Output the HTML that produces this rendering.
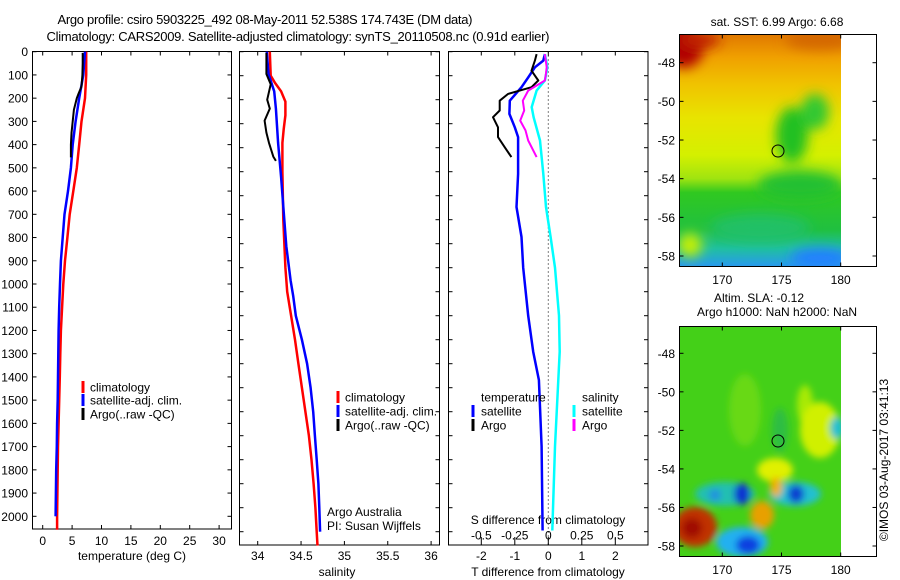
<!DOCTYPE html>
<html><head><meta charset="utf-8">
<style>
html,body{margin:0;padding:0;background:#fff;}
svg{display:block;font-family:"Liberation Sans",sans-serif;}
text{fill:#000;}
</style></head>
<body>
<svg id="fig" width="900" height="580" viewBox="0 0 900 580" xmlns="http://www.w3.org/2000/svg">
<defs>
  <linearGradient id="sstGrad" x1="0" y1="0" x2="0" y2="1">
    <stop offset="0" stop-color="#e07800"/>
    <stop offset="0.1" stop-color="#f0a000"/>
    <stop offset="0.22" stop-color="#f0c400"/>
    <stop offset="0.36" stop-color="#e8e400"/>
    <stop offset="0.52" stop-color="#d4f000"/>
    <stop offset="0.62" stop-color="#a0e410"/>
    <stop offset="0.68" stop-color="#30c820"/>
    <stop offset="0.84" stop-color="#20c040"/>
    <stop offset="0.92" stop-color="#20c0a0"/>
    <stop offset="1" stop-color="#2898f0"/>
  </linearGradient>
  <filter id="blur6" x="-50%" y="-50%" width="200%" height="200%"><feGaussianBlur stdDeviation="6"/></filter>
  <filter id="blur4" x="-50%" y="-50%" width="200%" height="200%"><feGaussianBlur stdDeviation="3.5"/></filter>
  <clipPath id="clipMap1"><rect x="679" y="34" width="162" height="233"/></clipPath>
  <clipPath id="clipMap2"><rect x="679" y="326" width="162" height="231"/></clipPath>
</defs>

<text x="265" y="24" text-anchor="middle" font-size="13" textLength="415">Argo profile: csiro 5903225_492 08-May-2011 52.538S 174.743E (DM data)</text>
<text x="298" y="41" text-anchor="middle" font-size="13" textLength="503">Climatology: CARS2009. Satellite-adjusted climatology: synTS_20110508.nc (0.91d earlier)</text>

<g>
  <text x="777" y="26" text-anchor="middle" font-size="12">sat. SST: 6.99 Argo: 6.68</text>
  <g clip-path="url(#clipMap1)">
    <rect x="679" y="34" width="162" height="233" fill="url(#sstGrad)"/>
    <g filter="url(#blur6)">
      <ellipse cx="684" cy="46" rx="20" ry="22" fill="#b00000"/>
      <ellipse cx="700" cy="40" rx="20" ry="8" fill="#c02000"/>
      <ellipse cx="820" cy="40" rx="35" ry="10" fill="#d06000" opacity="0.8"/>
      <ellipse cx="792" cy="135" rx="16" ry="28" fill="#20c020"/>
      <ellipse cx="815" cy="112" rx="14" ry="18" fill="#30c830"/>
      <ellipse cx="800" cy="185" rx="42" ry="14" fill="#20c030"/>
      <ellipse cx="760" cy="228" rx="50" ry="14" fill="#20c070" opacity="0.8"/>
      <ellipse cx="690" cy="245" rx="12" ry="12" fill="#c8f000"/>
      <ellipse cx="820" cy="258" rx="30" ry="10" fill="#2080ff"/>
    </g>
  </g>
  <rect x="841" y="34" width="36" height="233" fill="#fff"/>
  <rect x="679.5" y="34.5" width="197" height="232" fill="none" stroke="#000"/>
  <circle cx="778" cy="151" r="6" fill="none" stroke="#000"/>
  <g id="map1Ticks"></g>
</g>

<g>
  <text x="759" y="302" text-anchor="middle" font-size="12">Altim. SLA: -0.12</text>
  <text x="777" y="316" text-anchor="middle" font-size="12">Argo h1000: NaN h2000: NaN</text>
  <g clip-path="url(#clipMap2)">
    <rect x="679" y="326" width="162" height="231" fill="#44d018"/>
    <g filter="url(#blur4)">
      <ellipse cx="745" cy="410" rx="16" ry="36" fill="#80e010" opacity="0.6"/>
      <ellipse cx="805" cy="405" rx="8" ry="20" fill="#c0f000" opacity="0.8"/>
      <ellipse cx="780" cy="430" rx="8" ry="22" fill="#20b060" opacity="0.6"/>
      <ellipse cx="820" cy="430" rx="20" ry="28" fill="#d0f000"/>
      <ellipse cx="837" cy="428" rx="7" ry="11" fill="#20c0d0"/>
      <ellipse cx="775" cy="470" rx="18" ry="12" fill="#e0f000"/>
      <ellipse cx="725" cy="494" rx="30" ry="12" fill="#20c0b0"/>
      <ellipse cx="742" cy="494" rx="8" ry="11" fill="#1030d0"/>
      <ellipse cx="715" cy="495" rx="6" ry="6" fill="#2090e0"/>
      <ellipse cx="795" cy="494" rx="26" ry="12" fill="#20c0d0"/>
      <ellipse cx="796" cy="494" rx="8" ry="9" fill="#1040d0"/>
      <ellipse cx="776" cy="487" rx="6" ry="10" fill="#f0b000"/>
      <ellipse cx="762" cy="515" rx="12" ry="14" fill="#e8a000"/>
      <ellipse cx="695" cy="527" rx="22" ry="20" fill="#c03000"/>
      <ellipse cx="692" cy="528" rx="10" ry="10" fill="#a01000"/>
      <ellipse cx="742" cy="542" rx="26" ry="15" fill="#20b0f0"/>
      <ellipse cx="748" cy="545" rx="12" ry="9" fill="#1040e0"/>
    </g>
  </g>
  <rect x="841" y="326" width="36" height="231" fill="#fff"/>
  <rect x="679.5" y="326.5" width="197" height="230" fill="none" stroke="#000"/>
  <circle cx="778" cy="441" r="6" fill="none" stroke="#000"/>
  <g id="map2Ticks"></g>
  <text transform="translate(888,460) rotate(-90)" text-anchor="middle" font-size="12">©IMOS 03-Aug-2017 03:41:13</text>
</g>

<g id="panels"></g>

<script>
const climDepth = [0,100,200,300,400,500,600,700,800,900,1000,1100,1200,1300,1400,1500,1600,1700,1800,1900,2000,2058];
const climTemp = [7.4,7.4,7.2,6.6,6.2,5.8,5.2,4.6,4.2,3.8,3.5,3.3,3.1,3.0,2.9,2.8,2.7,2.6,2.55,2.5,2.45,2.45];
const satDepth = [0,100,200,300,400,500,600,700,800,900,1000,1100,1200,1300,1400,1500,1600,1700,1800,1900,2000];
const satTemp = [7.2,6.9,6.2,5.6,5.1,4.8,4.3,3.7,3.4,3.1,2.95,2.8,2.7,2.65,2.6,2.55,2.45,2.4,2.3,2.25,2.2];
const argoDepth = [5,50,100,150,180,200,250,300,350,400,455];
const argoTemp = [6.8,6.8,6.75,6.6,6.1,5.8,5.3,5.1,4.9,4.8,4.8];

const climSDepth = [0,100,130,165,208,265,323,380,500,700,900,1000,1100,1200,1300,1400,1500,1600,1700,1800,1900,2000,2058];
const climSal = [34.14,34.15,34.2,34.27,34.32,34.32,34.3,34.285,34.285,34.295,34.32,34.34,34.385,34.43,34.47,34.51,34.55,34.59,34.62,34.645,34.665,34.68,34.69];
const satSDepth = [0,93,165,237,380,523,667,810,953,1018,1100,1200,1300,1400,1500,1600,1700,1800,1900,2000];
const satSal = [34.105,34.125,34.19,34.21,34.235,34.27,34.30,34.33,34.38,34.41,34.44,34.51,34.57,34.61,34.64,34.66,34.68,34.70,34.71,34.72];
const argoSDepth = [5,93,136,200,237,287,337,380,437,455];
const argoSal = [34.1,34.1,34.15,34.11,34.14,34.08,34.1,34.13,34.18,34.21];

const satDTDepth = [10,37,65,107,148,204,259,315,356,509,647,772,900,1100,1250,1368,1645,1995];
const satDT = [-0.1,-0.15,-0.4,-0.6,-0.8,-1.15,-1.16,-1.0,-0.9,-0.9,-0.95,-0.8,-0.75,-0.6,-0.45,-0.28,-0.2,-0.17];
const argoDTDepth = [10,37,79,120,148,176,204,245,273,315,356,398,439];
const argoDT = [-0.35,-0.4,-0.5,-0.3,-0.5,-1.2,-1.45,-1.45,-1.65,-1.5,-1.5,-1.3,-1.1];
const satDSDepth = [10,65,120,162,231,273,370,509,647,772,900,1100,1250,1368,1645,1995];
const satDS = [-0.025,-0.007,-0.025,-0.087,-0.124,-0.11,-0.062,-0.037,-0.017,0.017,0.05,0.08,0.085,0.075,0.05,0.03];
const argoDSDepth = [10,65,93,120,162,204,245,287,328,370,439];
const argoDS = [-0.025,-0.012,-0.018,-0.025,-0.15,-0.19,-0.18,-0.21,-0.17,-0.15,-0.087];

const depthTicks = [0,100,200,300,400,500,600,700,800,900,1000,1100,1200,1300,1400,1500,1600,1700,1800,1900,2000];
const tempTicks = [0,5,10,15,20,25,30];
const salTicks = [34,34.5,35,35.5,36];
const dTTicks = [-2,-1,0,1,2];
const dSTicks = [-0.5,-0.25,0,0.25,0.5];
const dSTickLabels = ['-0.5','-0.25','0','0.25','0.5'];
const lonTicks = [170,175,180];
const latTicks = [-48,-50,-52,-54,-56,-58];

const NS = 'http://www.w3.org/2000/svg';
function el(tag, parent){ const e=document.createElementNS(NS,tag); parent.appendChild(e); return e; }
const root = document.getElementById('panels');

const p1 = {x0:32.5,x1:231.5,y0:51.5,y1:529};
const p2 = {x0:239.5,x1:439.5,y0:51.5,y1:545};
const p3 = {x0:448.5,x1:648,y0:51.5,y1:545};
const xT = t => 42.7 + 5.88*t;
const yD1 = d => 51.7 + 0.2323*d;
const xS = s => 257.7 + 86.7*(s-34);
const yD2 = d => 51.7 + 0.24*d;
const xDT = t => 548.3 + 33.5*t;
const xDS = s => 548.3 + 134*s;

function box(p, name){
  const r = el('rect', root);
  r.setAttribute('x',p.x0); r.setAttribute('y',p.y0);
  r.setAttribute('width',p.x1-p.x0); r.setAttribute('height',p.y1-p.y0);
  r.setAttribute('fill','none'); r.setAttribute('stroke','#000');
  
  
}
function line(xs, ys, xf, yf, color, w, name){
  const pl = el('polyline', root);
  pl.setAttribute('points', xs.map((v,i)=>xf(v).toFixed(1)+','+yf(ys[i]).toFixed(1)).join(' '));
  pl.setAttribute('fill','none'); pl.setAttribute('stroke',color);
  pl.setAttribute('stroke-width',w); pl.setAttribute('stroke-linejoin','round');
  
  
}
function txt(x,y,s,anchor,size,name,parent){
  const t = el('text', parent||root);
  t.setAttribute('x',x); t.setAttribute('y',y);
  t.setAttribute('text-anchor',anchor||'start'); t.setAttribute('font-size',size||12);
  t.textContent = s;
  
  
  return t;
}
function seg(x1,y1,x2,y2,parent,name){
  const l = el('line', parent||root);
  l.setAttribute('x1',x1); l.setAttribute('y1',y1); l.setAttribute('x2',x2); l.setAttribute('y2',y2);
  l.setAttribute('stroke','#000');
  
  
  return l;
}
function legBar(x,y,color,name){
  const r = el('rect', root);
  r.setAttribute('x',x-1.5); r.setAttribute('y',y-6); r.setAttribute('width',3); r.setAttribute('height',12);
  r.setAttribute('fill',color);
  
  
}

box(p1,'temperature-panel');
depthTicks.forEach(d=>{
  const y=yD1(d);
  seg(p1.x0,y,p1.x0+4,y,root,'depth-tick');
  seg(p1.x1,y,p1.x1-4,y,root,'depth-tick-right');
  txt(28,y+4.5,String(d),'end',12,'depth-tick-label');
});
tempTicks.forEach(t=>{
  const x=xT(t);
  seg(x,p1.y1,x,p1.y1-4,root,'temp-tick');
  seg(x,p1.y0,x,p1.y0+4,root,'temp-tick-top');
  txt(x,545,String(t),'middle',12,'temp-tick-label');
});
txt(132,560,'temperature (deg C)','middle',12,'temperature-axis-title');
line(climTemp,climDepth,xT,yD1,'#ff0000',2.5,'temp-climatology-line');
line(satTemp,satDepth,xT,yD1,'#0000ff',2.5,'temp-satellite-line');
line(argoTemp,argoDepth,xT,yD1,'#000000',2,'temp-argo-line');
legBar(83,387,'#ff0000','legend-climatology-swatch'); txt(90,391.5,'climatology','start',12,'legend-climatology');
legBar(83,400,'#0000ff','legend-satellite-swatch'); txt(90,404.5,'satellite-adj. clim.','start',12,'legend-satellite');
legBar(83,414,'#000000','legend-argo-swatch'); txt(90,418.5,'Argo(..raw -QC)','start',12,'legend-argo');

box(p2,'salinity-panel');
depthTicks.forEach(d=>{
  const y=yD2(d);
  seg(p2.x0,y,p2.x0+4,y,root,'sal-depth-tick');
  seg(p2.x1,y,p2.x1-4,y,root,'sal-depth-tick-right');
});
salTicks.forEach(s=>{
  const x=xS(s);
  seg(x,p2.y1,x,p2.y1-4,root,'sal-tick');
  seg(x,p2.y0,x,p2.y0+4,root,'sal-tick-top');
  txt(x,560,String(s),'middle',12,'sal-tick-label');
});
txt(337,576,'salinity','middle',12,'salinity-axis-title');
line(climSal,climSDepth,xS,yD2,'#ff0000',2.5,'sal-climatology-line');
line(satSal,satSDepth,xS,yD2,'#0000ff',2.5,'sal-satellite-line');
line(argoSal,argoSDepth,xS,yD2,'#000000',2,'sal-argo-line');
legBar(338,397,'#ff0000','legend2-climatology-swatch'); txt(345,401.5,'climatology','start',12,'legend2-climatology');
legBar(338,411,'#0000ff','legend2-satellite-swatch'); txt(345,415.5,'satellite-adj. clim.','start',12,'legend2-satellite');
legBar(338,425,'#000000','legend2-argo-swatch'); txt(345,429.5,'Argo(..raw -QC)','start',12,'legend2-argo');
txt(327,516,'Argo Australia','start',12,'credit-argo-australia');
txt(327,530,'PI: Susan Wijffels','start',12,'credit-pi');

box(p3,'difference-panel');
const dot = el('line', root);
dot.setAttribute('x1',548.3); dot.setAttribute('y1',p3.y0); dot.setAttribute('x2',548.3); dot.setAttribute('y2',p3.y1);
dot.setAttribute('stroke','#000'); dot.setAttribute('stroke-dasharray','1,3');


depthTicks.forEach(d=>{
  const y=yD2(d);
  seg(p3.x0,y,p3.x0+4,y,root,'diff-depth-tick');
  seg(p3.x1,y,p3.x1-4,y,root,'diff-depth-tick-right');
});
dTTicks.forEach(t=>{
  const x=xDT(t);
  seg(x,p3.y1,x,p3.y1-4,root,'dt-tick');
  seg(x,p3.y0,x,p3.y0+4,root,'dt-tick-top');
  txt(x,560,String(t),'middle',12,'dt-tick-label');
});
dSTicks.forEach((s,i)=>{
  const x=xDS(s);
  seg(x,p3.y1-8,x,p3.y1-4,root,'ds-tick');
  txt(x,539.5,dSTickLabels[i],'middle',12,'ds-tick-label');
});
txt(548,524,'S difference from climatology','middle',12,'s-diff-axis-title');
txt(548,576,'T difference from climatology','middle',12,'t-diff-axis-title');
line(satDT,satDTDepth,xDT,yD2,'#0000ff',2.5,'dt-satellite-line');
line(argoDT,argoDTDepth,xDT,yD2,'#000000',2,'dt-argo-line');
line(satDS,satDSDepth,xDS,yD2,'#00ffff',2.5,'ds-satellite-line');
line(argoDS,argoDSDepth,xDS,yD2,'#ff00ff',2,'ds-argo-line');
txt(481,401.5,'temperature','start',12,'legend3-temperature-header');
legBar(473,411,'#0000ff','legend3-t-satellite-swatch'); txt(481,415.5,'satellite','start',12,'legend3-t-satellite');
legBar(473,425,'#000000','legend3-t-argo-swatch'); txt(481,429.5,'Argo','start',12,'legend3-t-argo');
txt(582,401.5,'salinity','start',12,'legend3-salinity-header');
legBar(574,411,'#00ffff','legend3-s-satellite-swatch'); txt(582,415.5,'satellite','start',12,'legend3-s-satellite');
legBar(574,425,'#ff00ff','legend3-s-argo-swatch'); txt(582,429.5,'Argo','start',12,'legend3-s-argo');

function mapTicks(gid, top, bottom, latY, lonLabelY){
  const g = document.getElementById(gid);
  const xLon = lon => 722.3 + 11.84*(lon-170);
  lonTicks.forEach(lon=>{
    const x=xLon(lon);
    seg(x,top,x,top+4,g,'lon-tick-top');
    seg(x,bottom,x,bottom-4,g,'lon-tick');
    txt(x,lonLabelY,String(lon),'middle',12,'lon-tick-label',g);
  });
  latTicks.forEach(lat=>{
    const y=latY(lat);
    seg(679.5,y,683.5,y,g,'lat-tick');
    seg(876.5,y,872.5,y,g,'lat-tick-right');
    txt(675,y+4.5,String(lat),'end',12,'lat-tick-label',g);
  });
}
mapTicks('map1Ticks',34.5,266.5,lat=>62.7+(-48-lat)*19.33,284);
mapTicks('map2Ticks',326.5,556.5,lat=>353.3+(-48-lat)*19.27,574);
</script>
</svg>
</body></html>
